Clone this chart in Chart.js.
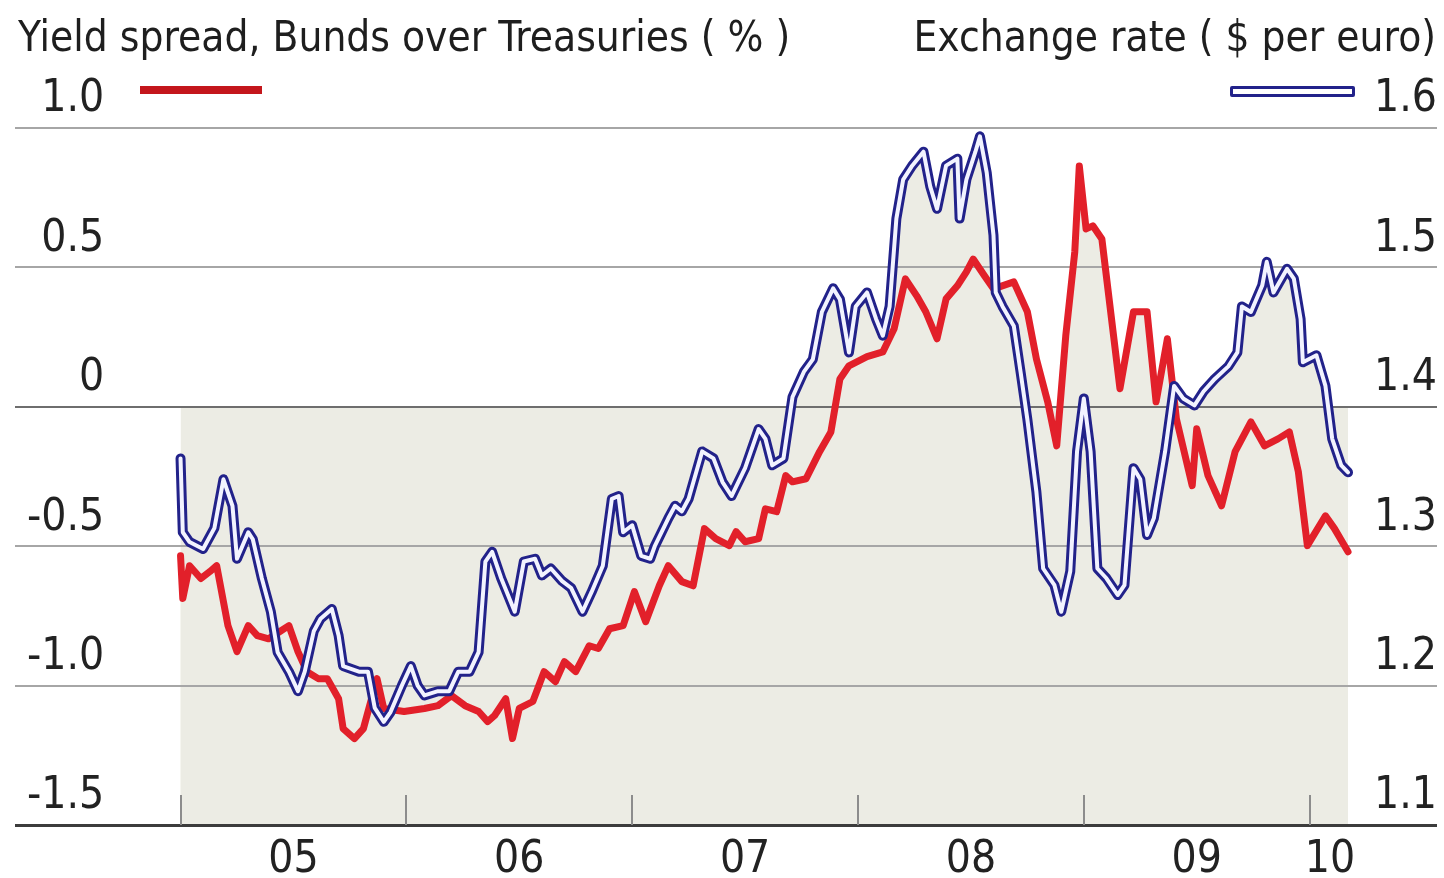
<!DOCTYPE html>
<html>
<head>
<meta charset="utf-8">
<script src="https://cdn.jsdelivr.net/npm/chart.js@4.4.0/dist/chart.umd.min.js"></script>
<style>
    html, body { margin: 0; padding: 0; background: #fff; }
    #wrap { position: relative; width: 1444px; height: 878px; overflow: hidden; }
    #grafico { position: absolute; left: 0; top: 0; }
    .titulo { position: absolute; top: 16px; font-family: 'DejaVu Sans Condensed', 'DejaVu Sans', sans-serif; font-size: 42px; line-height: 42px; color: #1e1e1e; white-space: nowrap; }
    .chave { position: absolute; box-sizing: border-box; }
</style>
</head>
<body>
<div id="wrap">
    <canvas id="grafico" width="1444" height="878"></canvas>
    <div class="titulo" style="left:18px">Yield spread, Bunds over Treasuries ( % )</div>
    <div class="titulo" style="right:8px">Exchange rate ( $ per euro)</div>
    <div class="chave" style="left:140px; top:86px; width:122px; height:8px; background:#c4161c"></div>
    <div class="chave" style="left:1230px; top:86px; width:125px; height:11px; background:#fff; border:3px solid #22228a; border-radius:2px"></div>
</div>
<script>
"use strict";

// eixo x: anos decimais
const yearLabels = ['05', '06', '07', '08', '09', '10'];
const labelYears = [2005.5, 2006.5, 2007.5, 2008.5, 2009.5, 2010.09];
const yearStarts = [2005, 2006, 2007, 2008, 2009, 2010];
const spreadTicks = ['-1.5', '-1.0', '-0.5', '0', '0.5', '1.0'];
const rateTicks = ['1.1', '1.2', '1.3', '1.4', '1.5', '1.6'];

// Yield spread, Bunds over Treasuries (%)
const spreadDates = [2005.00, 2005.01, 2005.04, 2005.09, 2005.13, 2005.16, 2005.21, 2005.25, 2005.30, 2005.34,
    2005.39, 2005.44, 2005.48, 2005.52, 2005.56, 2005.61, 2005.65, 2005.70, 2005.72, 2005.77,
    2005.81, 2005.87, 2005.90, 2005.99, 2006.08, 2006.14, 2006.20, 2006.26, 2006.32, 2006.36,
    2006.39, 2006.44, 2006.47, 2006.50, 2006.56, 2006.61, 2006.66, 2006.70, 2006.75, 2006.81,
    2006.85, 2006.90, 2006.96, 2007.01, 2007.06, 2007.12, 2007.16, 2007.22, 2007.27, 2007.32,
    2007.37, 2007.43, 2007.46, 2007.50, 2007.56, 2007.59, 2007.64, 2007.68, 2007.71, 2007.77,
    2007.83, 2007.88, 2007.92, 2007.96, 2008.04, 2008.11, 2008.16, 2008.21, 2008.26, 2008.30,
    2008.35, 2008.39, 2008.44, 2008.48, 2008.51, 2008.56, 2008.60, 2008.69, 2008.75, 2008.79,
    2008.84, 2008.88, 2008.92, 2008.96, 2008.98, 2009.01, 2009.04, 2009.08, 2009.16, 2009.22,
    2009.28, 2009.32, 2009.37, 2009.41, 2009.48, 2009.50, 2009.55, 2009.61, 2009.67, 2009.74,
    2009.80, 2009.86, 2009.91, 2009.95, 2009.99, 2010.07, 2010.11, 2010.17];
const spreadValues = [-0.534, -0.688, -0.570, -0.616, -0.591, -0.570, -0.785, -0.878, -0.785, -0.821,
    -0.832, -0.806, -0.785, -0.878, -0.950, -0.975, -0.975, -1.047, -1.154, -1.190,
    -1.154, -0.975, -1.082, -1.093, -1.082, -1.072, -1.036, -1.072, -1.093, -1.129,
    -1.108, -1.047, -1.190, -1.082, -1.057, -0.950, -0.986, -0.914, -0.950, -0.857,
    -0.867, -0.796, -0.785, -0.663, -0.771, -0.642, -0.570, -0.627, -0.642, -0.437,
    -0.473, -0.498, -0.448, -0.484, -0.473, -0.366, -0.376, -0.247, -0.269, -0.258,
    -0.161, -0.090, 0.100, 0.147, 0.180, 0.197, 0.280, 0.459, 0.398, 0.341,
    0.244, 0.387, 0.434, 0.484, 0.530, 0.470, 0.423, 0.448, 0.341, 0.172,
    0.018, -0.140, 0.254, 0.556, 0.864, 0.638, 0.649, 0.602, 0.065, 0.341,
    0.341, 0.018, 0.244, -0.043, -0.283, -0.079, -0.247, -0.355, -0.161, -0.054,
    -0.140, -0.115, -0.090, -0.233, -0.498, -0.391, -0.437, -0.520];

// Exchange rate ($ per euro)
const rateDates = [2005.00, 2005.01, 2005.04, 2005.10, 2005.15, 2005.19, 2005.23, 2005.25, 2005.30, 2005.32,
    2005.36, 2005.40, 2005.43, 2005.48, 2005.52, 2005.55, 2005.59, 2005.62, 2005.67, 2005.70,
    2005.72, 2005.79, 2005.83, 2005.86, 2005.90, 2005.93, 2005.98, 2006.02, 2006.05, 2006.08,
    2006.14, 2006.19, 2006.23, 2006.28, 2006.32, 2006.35, 2006.38, 2006.42, 2006.48, 2006.52,
    2006.57, 2006.60, 2006.64, 2006.69, 2006.73, 2006.78, 2006.82, 2006.87, 2006.91, 2006.94,
    2006.96, 2007.00, 2007.04, 2007.08, 2007.10, 2007.16, 2007.19, 2007.22, 2007.25, 2007.31,
    2007.36, 2007.40, 2007.44, 2007.50, 2007.56, 2007.59, 2007.62, 2007.67, 2007.71, 2007.76,
    2007.80, 2007.84, 2007.89, 2007.92, 2007.96, 2007.99, 2008.04, 2008.08, 2008.11, 2008.14,
    2008.17, 2008.20, 2008.24, 2008.29, 2008.32, 2008.35, 2008.39, 2008.44, 2008.45, 2008.48,
    2008.52, 2008.54, 2008.57, 2008.60, 2008.61, 2008.64, 2008.69, 2008.72, 2008.75, 2008.79,
    2008.82, 2008.87, 2008.90, 2008.94, 2008.97, 2009.00, 2009.03, 2009.06, 2009.10, 2009.15,
    2009.18, 2009.22, 2009.25, 2009.28, 2009.31, 2009.36, 2009.40, 2009.44, 2009.49, 2009.53,
    2009.58, 2009.64, 2009.68, 2009.70, 2009.74, 2009.79, 2009.81, 2009.84, 2009.90, 2009.93,
    2009.96, 2009.97, 2010.03, 2010.07, 2010.10, 2010.14, 2010.17];
const rateValues = [1.363, 1.310, 1.303, 1.298, 1.313, 1.348, 1.329, 1.291, 1.310, 1.305,
    1.277, 1.253, 1.224, 1.210, 1.196, 1.210, 1.239, 1.248, 1.255, 1.236,
    1.214, 1.210, 1.210, 1.184, 1.174, 1.181, 1.200, 1.214, 1.200, 1.193,
    1.196, 1.196, 1.210, 1.210, 1.224, 1.289, 1.296, 1.277, 1.253, 1.289,
    1.291, 1.279, 1.284, 1.275, 1.270, 1.253, 1.267, 1.286, 1.334, 1.336,
    1.310, 1.315, 1.293, 1.291, 1.300, 1.320, 1.329, 1.325, 1.334, 1.368,
    1.363, 1.346, 1.336, 1.356, 1.384, 1.377, 1.358, 1.363, 1.407, 1.425,
    1.434, 1.468, 1.485, 1.477, 1.439, 1.472, 1.482, 1.463, 1.451, 1.472,
    1.535, 1.563, 1.573, 1.583, 1.558, 1.542, 1.573, 1.578, 1.535, 1.563,
    1.583, 1.594, 1.568, 1.523, 1.482, 1.472, 1.458, 1.425, 1.391, 1.339,
    1.284, 1.272, 1.253, 1.282, 1.368, 1.406, 1.368, 1.284, 1.277, 1.265,
    1.272, 1.356, 1.348, 1.308, 1.320, 1.368, 1.415, 1.406, 1.401, 1.411,
    1.420, 1.429, 1.439, 1.472, 1.468, 1.487, 1.504, 1.482, 1.499, 1.492,
    1.463, 1.432, 1.437, 1.415, 1.377, 1.358, 1.353];

const COR_SOMBRA = '#ececE4';
const FONTE = "'DejaVu Sans Condensed', 'DejaVu Sans', sans-serif";

const pontos = (xs, ys) => xs.map((x, i) => ({ x: x, y: ys[i] }));
const spreadPts = pontos(spreadDates, spreadValues);
const ratePts = pontos(rateDates, rateValues);
const sombraPts = [{ x: spreadDates[0], y: 0 }, { x: spreadDates[spreadDates.length - 1], y: 0 }];

// marcas curtas dos anos sobre o eixo
const marcasAno = {
    id: 'marcasAno',
    afterDatasetsDraw(chart) {
        const { ctx, chartArea, scales } = chart;
        ctx.save();
        ctx.strokeStyle = '#8c8c8c';
        ctx.lineWidth = 2;
        yearStarts.forEach(a => {
            const px = Math.round(scales.x.getPixelForValue(a));
            ctx.beginPath();
            ctx.moveTo(px, chartArea.bottom);
            ctx.lineTo(px, chartArea.bottom - 30);
            ctx.stroke();
        });
        ctx.restore();
    }
};

new Chart(document.getElementById('grafico'), {
    type: 'line',
    data: {
        datasets: [
            { data: ratePts, yAxisID: 'y2', borderColor: '#f2f3ff', borderWidth: 4, fill: false },
            { data: ratePts, yAxisID: 'y2', borderColor: '#22228a', borderWidth: 10, fill: 'start', backgroundColor: COR_SOMBRA },
            { data: spreadPts, yAxisID: 'y', borderColor: '#e2202a', borderWidth: 7, fill: 'start', backgroundColor: COR_SOMBRA },
            { data: sombraPts, yAxisID: 'y', borderWidth: 0, borderColor: 'rgba(0,0,0,0)', fill: 'start', backgroundColor: COR_SOMBRA }
        ]
    },
    options: {
        responsive: false,
        animation: false,
        events: [],
        layout: { padding: { top: 128, left: 15, right: 7, bottom: 0 } },
        elements: {
            point: { radius: 0 },
            line: { tension: 0, borderJoinStyle: 'round', borderCapStyle: 'round' }
        },
        plugins: {
            legend: { display: false },
            tooltip: { enabled: false },
            filler: { drawTime: 'beforeDraw' }
        },
        scales: {
            x: {
                type: 'linear',
                min: 2004.267,
                max: 2010.564,
                grid: { display: false },
                border: { display: false },
                afterBuildTicks: s => { s.ticks = labelYears.map(v => ({ value: v })); },
                afterFit: s => { s.height = 53; },
                ticks: {
                    autoSkip: false,
                    maxRotation: 0,
                    padding: 6,
                    color: '#222',
                    font: { family: FONTE, size: 44, lineHeight: 1 },
                    callback: (v, i) => yearLabels[i]
                }
            },
            y: {
                position: 'left',
                min: -1.5,
                max: 1.0,
                afterFit: s => { s.width = 0; },
                border: { display: false },
                grid: {
                    drawTicks: false,
                    color: c => c.tick.value === 0 ? '#6e6e6e' : (c.tick.value === -1.5 ? '#3c3c3c' : '#a6a6a6'),
                    lineWidth: c => c.tick.value === -1.5 ? 3 : 2
                },
                ticks: {
                    stepSize: 0.5,
                    mirror: true,
                    crossAlign: 'far',
                    padding: 12,
                    labelOffset: -28,
                    color: '#222',
                    font: { family: FONTE, size: 44 },
                    callback: (v, i) => spreadTicks[i]
                }
            },
            y2: {
                position: 'right',
                min: 1.1,
                max: 1.6,
                afterFit: s => { s.width = 0; },
                border: { display: false },
                grid: { display: false },
                ticks: {
                    stepSize: 0.1,
                    mirror: true,
                    padding: 0,
                    labelOffset: -28,
                    color: '#222',
                    font: { family: FONTE, size: 44 },
                    callback: (v, i) => rateTicks[i]
                }
            }
        }
    },
    plugins: [marcasAno]
});
</script>
</body>
</html>
